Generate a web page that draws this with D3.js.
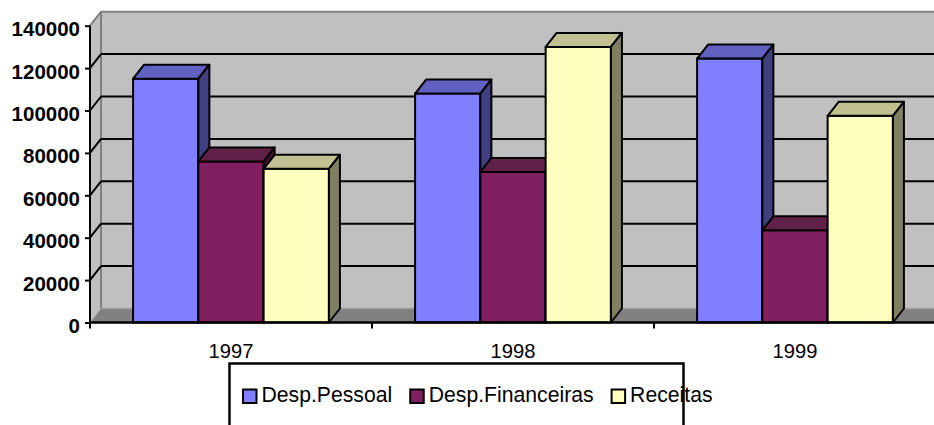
<!DOCTYPE html>
<html><head><meta charset="utf-8">
<script src="https://cdn.jsdelivr.net/npm/d3@7"></script>
<style>
html,body{margin:0;padding:0;background:#fff;}
svg{display:block;font-family:Arial,"Liberation Sans",sans-serif;}
</style></head>
<body>
<svg id="chart" width="934" height="425"></svg>
<script>
// ---- data ----
const categories = ["1997", "1998", "1999"];
const seriesNames = ["Desp.Pessoal", "Desp.Financeiras", "Receitas"];
const despPessoal = [115000, 108000, 124500];
const despFinanceiras = [76000, 71000, 43500];
const receitas = [72500, 130000, 97500];
const yTicks = [0, 20000, 40000, 60000, 80000, 100000, 120000, 140000];
const frontColors = ["#8080FF", "#802060", "#FFFFC0"];
const topColors = ["#6060C0", "#602048", "#C0C090"];
const sideColors = ["#404080", "#401030", "#808060"];

const seriesValues = [despPessoal, despFinanceiras, receitas];

const svg = d3.select("#chart");
const W = 934;
const left = 90, right = 936, y0px = 322.5, yTopPx = 25.7;
const dx = 11, dy = -14;
const wallRight = 945;

const y = d3.scaleLinear().domain([0, 140000]).range([y0px, yTopPx]);
const x0 = d3.scaleBand().domain(categories).range([left, right]).padding(0);
const x1 = d3.scaleBand().domain(seriesNames).range([0, x0.bandwidth()]).paddingInner(0).paddingOuter(0.66);

// ---- walls ----
const yMax = y(140000);
svg.append("polygon")
  .attr("points", [[left+dx, y0px+dy],[left+dx, yMax+dy],[wallRight, yMax+dy],[wallRight, y0px+dy]].join(" "))
  .attr("fill", "#C0C0C0");
svg.append("polygon")
  .attr("points", [[left, y0px],[left, yMax],[left+dx, yMax+dy],[left+dx, y0px+dy]].join(" "))
  .attr("fill", "#C0C0C0");
svg.append("polygon")
  .attr("points", [[left, y0px],[left+dx, y0px+dy],[wallRight, y0px+dy],[wallRight, y0px]].join(" "))
  .attr("fill", "#808080");
svg.append("path")
  .attr("d", `M${left},${yMax}L${left+dx},${yMax+dy}L${wallRight},${yMax+dy}M${left+dx},${yMax+dy}L${left+dx},${y0px+dy}`)
  .attr("fill", "none").attr("stroke", "#808080").attr("stroke-width", 2);
svg.append("line")
  .attr("x1", left+dx).attr("x2", wallRight).attr("y1", y0px+dy).attr("y2", y0px+dy)
  .attr("stroke", "#A0A0A0").attr("stroke-width", 1.5);

// gridlines (back wall + side diagonals)
const gridTicks = yTicks.filter(t => t > 0 && t < 140000);
svg.append("g").selectAll("line.grid").data(gridTicks).join("line")
  .attr("x1", left+dx).attr("x2", wallRight)
  .attr("y1", d => y(d)+dy).attr("y2", d => y(d)+dy)
  .attr("stroke", "#000").attr("stroke-width", 2);
svg.append("g").selectAll("line.diag").data(gridTicks).join("line")
  .attr("x1", left).attr("x2", left+dx)
  .attr("y1", d => y(d)).attr("y2", d => y(d)+dy)
  .attr("stroke", "#000").attr("stroke-width", 2);

// ---- bars ----
const gBars = svg.append("g");
categories.forEach((cat, ci) => {
  seriesNames.forEach((s, si) => {
    const v = seriesValues[si][ci];
    const xa = x0(cat) + x1(s);
    const w = x1.bandwidth();
    const yv = y(v), yb = y(0);
    const g = gBars.append("g").attr("stroke", "#000").attr("stroke-width", 2).attr("stroke-linejoin", "round");
    g.append("polygon").attr("fill", frontColors[si])
      .attr("points", [[xa, yv],[xa+w, yv],[xa+w, yb],[xa, yb]].join(" "));
    g.append("polygon").attr("fill", topColors[si])
      .attr("points", [[xa, yv],[xa+dx, yv+dy],[xa+w+dx, yv+dy],[xa+w, yv]].join(" "));
    g.append("polygon").attr("fill", sideColors[si])
      .attr("points", [[xa+w, yv],[xa+w+dx, yv+dy],[xa+w+dx, yb+dy],[xa+w, yb]].join(" "));
  });
});

// ---- axes ----
svg.append("line").attr("x1", left).attr("x2", left).attr("y1", yMax).attr("y2", y0px)
  .attr("stroke", "#000").attr("stroke-width", 2);
svg.append("line").attr("x1", left).attr("x2", W+5).attr("y1", y0px).attr("y2", y0px)
  .attr("stroke", "#000").attr("stroke-width", 2.5);
const yAxis = d3.axisLeft(y).tickValues(yTicks).tickSize(5).tickPadding(5).tickFormat(d3.format("d"));
const gy = svg.append("g").attr("transform", `translate(${left},0)`).call(yAxis);
gy.select(".domain").remove();
gy.selectAll(".tick line").attr("stroke", "#000").attr("stroke-width", 2);
gy.selectAll(".tick text")
  .attr("font-family", "Arial, 'Liberation Sans', sans-serif")
  .attr("font-size", "20.5px").attr("font-weight", "bold").attr("fill", "#000")
  .attr("dy", null).attr("y", 10);

const xTickPos = categories.map(c => x0(c)).concat([right]);
svg.append("g").selectAll("line").data(xTickPos).join("line")
  .attr("x1", d => d).attr("x2", d => d).attr("y1", y0px).attr("y2", y0px+6)
  .attr("stroke", "#000").attr("stroke-width", 2);
svg.append("g").selectAll("text").data(categories).join("text")
  .attr("x", d => x0(d) + x0.bandwidth()/2).attr("y", 357.5)
  .attr("text-anchor", "middle").attr("font-size", "20.2px").attr("fill", "#000")
  .text(d => d);

// ---- legend ----
const leg = svg.append("g");
leg.append("rect").attr("x", 229.5).attr("y", 363.5).attr("width", 454).attr("height", 80)
  .attr("fill", "#fff").attr("stroke", "#000").attr("stroke-width", 2.5);
let lx = 243;
seriesNames.forEach((s, i) => {
  leg.append("rect").attr("x", lx).attr("y", 389.5).attr("width", 13.5).attr("height", 13.5)
    .attr("fill", frontColors[i]).attr("stroke", "#000").attr("stroke-width", 2);
  const t = leg.append("text").attr("x", lx + 18.5).attr("y", 402)
    .attr("font-size", "21.2px").attr("fill", "#000").text(s);
  lx = lx + 18.5 + t.node().getComputedTextLength() + 18;
});
</script>
</body></html>
